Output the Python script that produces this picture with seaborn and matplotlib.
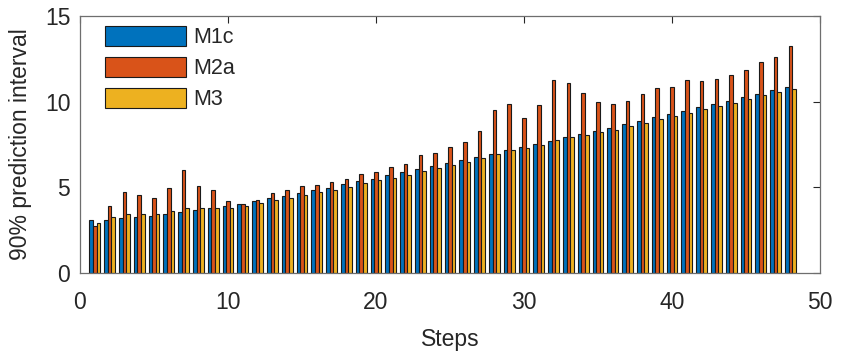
import numpy as np
import pandas as pd
import matplotlib
matplotlib.use("Agg")
import matplotlib.pyplot as plt
import seaborn as sns

steps = list(range(1, 49))
models = ["M1c", "M2a", "M3"]
m1c = [3.07, 3.11, 3.19, 3.25, 3.33, 3.42, 3.56, 3.68, 3.77, 3.91,
       4.05, 4.20, 4.36, 4.50, 4.65, 4.83, 4.96, 5.18, 5.35, 5.51,
       5.70, 5.88, 6.07, 6.23, 6.42, 6.62, 6.79, 6.95, 7.16, 7.34,
       7.55, 7.73, 7.92, 8.10, 8.31, 8.49, 8.68, 8.88, 9.09, 9.29,
       9.48, 9.67, 9.87, 10.06, 10.26, 10.47, 10.67, 10.84]
m2a = [2.74, 3.89, 4.75, 4.53, 4.38, 4.94, 5.99, 5.10, 4.85, 4.23,
       4.01, 4.24, 4.65, 4.85, 5.10, 5.14, 5.29, 5.51, 5.78, 5.92,
       6.17, 6.38, 6.87, 6.99, 7.34, 7.63, 8.31, 9.50, 9.89, 9.04,
       9.81, 11.29, 11.10, 10.51, 9.99, 9.87, 10.06, 10.43, 10.77, 10.86,
       11.25, 11.19, 11.35, 11.58, 11.86, 12.30, 12.59, 13.24]
m3 = [2.94, 3.25, 3.46, 3.42, 3.46, 3.64, 3.81, 3.77, 3.79, 3.81,
      3.91, 4.09, 4.24, 4.38, 4.53, 4.71, 4.87, 5.04, 5.26, 5.41,
      5.57, 5.74, 5.94, 6.11, 6.29, 6.48, 6.69, 6.97, 7.18, 7.28,
      7.49, 7.79, 7.94, 8.04, 8.21, 8.37, 8.58, 8.78, 9.00, 9.17,
      9.36, 9.56, 9.75, 9.95, 10.14, 10.36, 10.55, 10.76]
xticks = [0, 10, 20, 30, 40, 50]
yticks = [0, 5, 10, 15]
colors = ["#0072BD", "#D95319", "#EDB120"]

df = pd.DataFrame({
    "Steps": steps * 3,
    "value": m1c + m2a + m3,
    "model": [m for m in models for _ in steps],
})

sns.set_theme(style="white")
plt.rcParams["font.family"] = ["Liberation Sans", "DejaVu Sans"]

fig = plt.figure(figsize=(8.41, 3.54), dpi=100)
ax = fig.add_axes([80 / 841, 1 - 273 / 354, 740 / 841, 257 / 354])

sns.barplot(data=df, x="Steps", y="value", hue="model", hue_order=models,
            palette=colors, saturation=1, native_scale=True, width=0.72,
            dodge=True, errorbar=None, edgecolor="#1a1a1a", linewidth=0.8,
            ax=ax)

ax.set_xlim(0, 50)
ax.set_ylim(0, 15)
ax.set_xticks(xticks)
ax.set_yticks(yticks)
ax.set_xticklabels([str(t) for t in xticks])
ax.set_yticklabels([str(t) for t in yticks])
tc = "#262626"
ax.tick_params(direction="in", length=5, width=0.8, top=True, right=True,
               labelsize=16.5, colors=tc)
ax.tick_params(axis="x", pad=13)
ax.tick_params(axis="y", pad=7)
ax.tick_params(axis="both", labelcolor=tc)
for s in ax.spines.values():
    s.set_visible(True)
    s.set_color("#6e6e6e")
    s.set_linewidth(0.9)
ax.set_xlabel("Steps", fontsize=16.5, color=tc, labelpad=10)
ax.set_ylabel("90% prediction interval", fontsize=16.5, color=tc, labelpad=9)

handles, labels = ax.get_legend_handles_labels()
if ax.get_legend() is not None:
    ax.get_legend().remove()
leg = ax.legend(handles, labels, loc="upper left",
                bbox_to_anchor=(25 / 740, 1 - 10 / 257),
                frameon=False, fontsize=15.5, handlelength=3.75,
                handleheight=1.05, labelspacing=0.4, handletextpad=0.35,
                borderaxespad=0, borderpad=0)
for t in leg.get_texts():
    t.set_color(tc)

fig.savefig("out.png", dpi=100)
